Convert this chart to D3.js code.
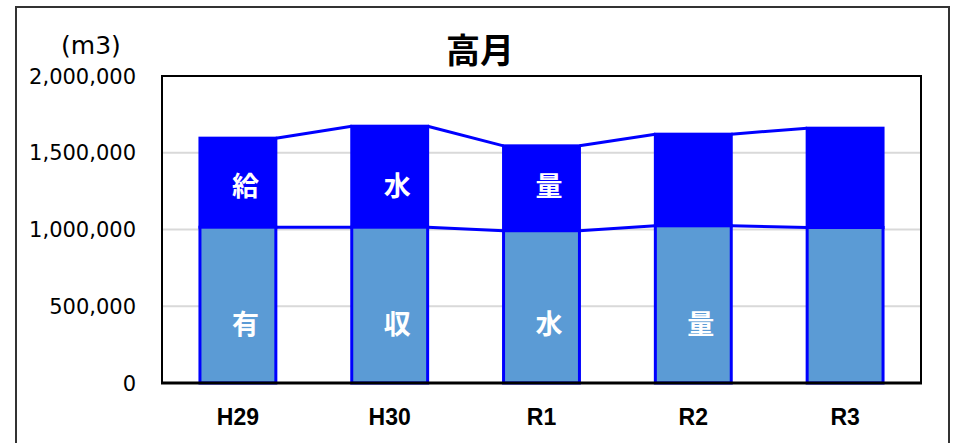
<!DOCTYPE html>
<html><head><meta charset="utf-8">
<script src="https://cdn.jsdelivr.net/npm/d3@7/dist/d3.min.js"></script>
<style>html,body{margin:0;padding:0;background:#fff;}svg{display:block;}</style>
</head><body>
<svg id="c" width="955" height="443"></svg>
<script>
// ---- data ----
const categories = ["H29", "H30", "R1", "R2", "R3"];
const supplyVolume = [1595000, 1673000, 1545000, 1621000, 1660000];   // 給水量 (total)
const revenueVolume = [1015000, 1015000, 992000, 1024000, 1013000];  // 有収水量
const yTicks = [0, 500000, 1000000, 1500000, 2000000];
const topLabels = ["給", "水", "量", "", ""];
const bottomLabels = ["有", "収", "水", "量", ""];
const title = "高月";
const unitLabel = "(m3)";
const topLabelValue = 1280000;
const bottomLabelValue = 380000;

const svg = d3.select("#c");
const L = 162, R = 921, T = 76, B = 383;

const x = d3.scaleBand().domain(categories).range([L, R]).paddingInner(0.5).paddingOuter(0.25);
const y = d3.scaleLinear().domain([0, 2000000]).range([B, T]);
const bw = x.bandwidth();

// outer border
svg.append("rect").attr("x", 16).attr("y", 7).attr("width", 933).attr("height", 460)
  .attr("fill", "none").attr("stroke", "#333").attr("stroke-width", 2);

// gridlines
svg.append("g").selectAll("line").data(yTicks.filter(d => d > 0 && d < 2000000)).join("line")
  .attr("x1", L).attr("x2", R).attr("y1", d => y(d)).attr("y2", d => y(d))
  .attr("stroke", "#d9d9d9").attr("stroke-width", 2);

const data = categories.map((c, i) => ({c, total: supplyVolume[i], rev: revenueVolume[i], i}));

// top segment (給水量 - 有収水量)
svg.append("g").selectAll("rect").data(data).join("rect")
  .attr("x", d => x(d.c)).attr("width", bw)
  .attr("y", d => y(d.total)).attr("height", d => y(d.rev) - y(d.total))
  .attr("fill", "#0000ff").attr("stroke", "#0000ff").attr("stroke-width", 3);

// bottom segment (有収水量)
svg.append("g").selectAll("rect").data(data).join("rect")
  .attr("x", d => x(d.c)).attr("width", bw)
  .attr("y", d => y(d.rev)).attr("height", d => y(0) - y(d.rev))
  .attr("fill", "#5b9bd5").attr("stroke", "#0000ff").attr("stroke-width", 3);

// series lines
const pairs = d3.pairs(data);
const sl = svg.append("g").attr("stroke", "#0000ff").attr("stroke-width", 3);
sl.selectAll("line.t").data(pairs).join("line").attr("class", "t")
  .attr("x1", p => x(p[0].c) + bw).attr("y1", p => y(p[0].total))
  .attr("x2", p => x(p[1].c)).attr("y2", p => y(p[1].total));
sl.selectAll("line.b").data(pairs).join("line").attr("class", "b")
  .attr("x1", p => x(p[0].c) + bw).attr("y1", p => y(p[0].rev))
  .attr("x2", p => x(p[1].c)).attr("y2", p => y(p[1].rev));

// plot area border
svg.append("line").attr("x1", L).attr("x2", R).attr("y1", T).attr("y2", T).attr("stroke", "#000").attr("stroke-width", 2);
svg.append("line").attr("x1", L).attr("x2", L).attr("y1", T - 1).attr("y2", B).attr("stroke", "#000").attr("stroke-width", 2);
svg.append("line").attr("x1", R).attr("x2", R).attr("y1", T - 1).attr("y2", B).attr("stroke", "#000").attr("stroke-width", 2);
svg.append("line").attr("x1", L - 1).attr("x2", R + 1).attr("y1", B).attr("y2", B).attr("stroke", "#000").attr("stroke-width", 3);

// y axis tick labels
const fmt = d3.format(",");
svg.append("g").selectAll("text").data(yTicks).join("text")
  .attr("x", 136).attr("y", d => y(d)).attr("dy", "0.36em")
  .attr("text-anchor", "end").attr("font-family", "DejaVu Sans").attr("font-size", 21).attr("fill", "#000")
  .text(d => fmt(d));

// category labels
svg.append("g").selectAll("text").data(categories).join("text")
  .attr("x", d => x(d) + bw / 2).attr("y", 425)
  .attr("text-anchor", "middle").attr("font-family", "Liberation Sans").attr("font-weight", "bold")
  .attr("font-size", 23).attr("fill", "#000").text(d => d);

// unit label
svg.append("text").attr("x", 91).attr("y", 54).attr("text-anchor", "middle")
  .attr("font-family", "DejaVu Sans").attr("font-size", 25).attr("fill", "#000").text(unitLabel);

// title
svg.append("text").attr("x", 480).attr("y", 63).attr("text-anchor", "middle")
  .attr("font-family", "Noto Sans CJK JP").attr("font-weight", "bold").attr("font-size", 34).attr("fill", "#000").text(title);

// in-bar labels
const lab = {"font-family": "Noto Sans CJK JP", "font-weight": "bold", "font-size": 27, "fill": "#fff"};
const tl = svg.append("g").selectAll("text").data(categories.map((c, i) => ({c, t: topLabels[i]}))).join("text")
  .attr("x", d => x(d.c) + bw / 2 + 7.5).attr("y", y(topLabelValue)).attr("dy", "0.36em")
  .attr("text-anchor", "middle").text(d => d.t);
const bl = svg.append("g").selectAll("text").data(categories.map((c, i) => ({c, t: bottomLabels[i]}))).join("text")
  .attr("x", d => x(d.c) + bw / 2 + 7.5).attr("y", y(bottomLabelValue)).attr("dy", "0.36em")
  .attr("text-anchor", "middle").text(d => d.t);
for (const [k, v] of Object.entries(lab)) { tl.attr(k, v); bl.attr(k, v); }
</script>
</body></html>
